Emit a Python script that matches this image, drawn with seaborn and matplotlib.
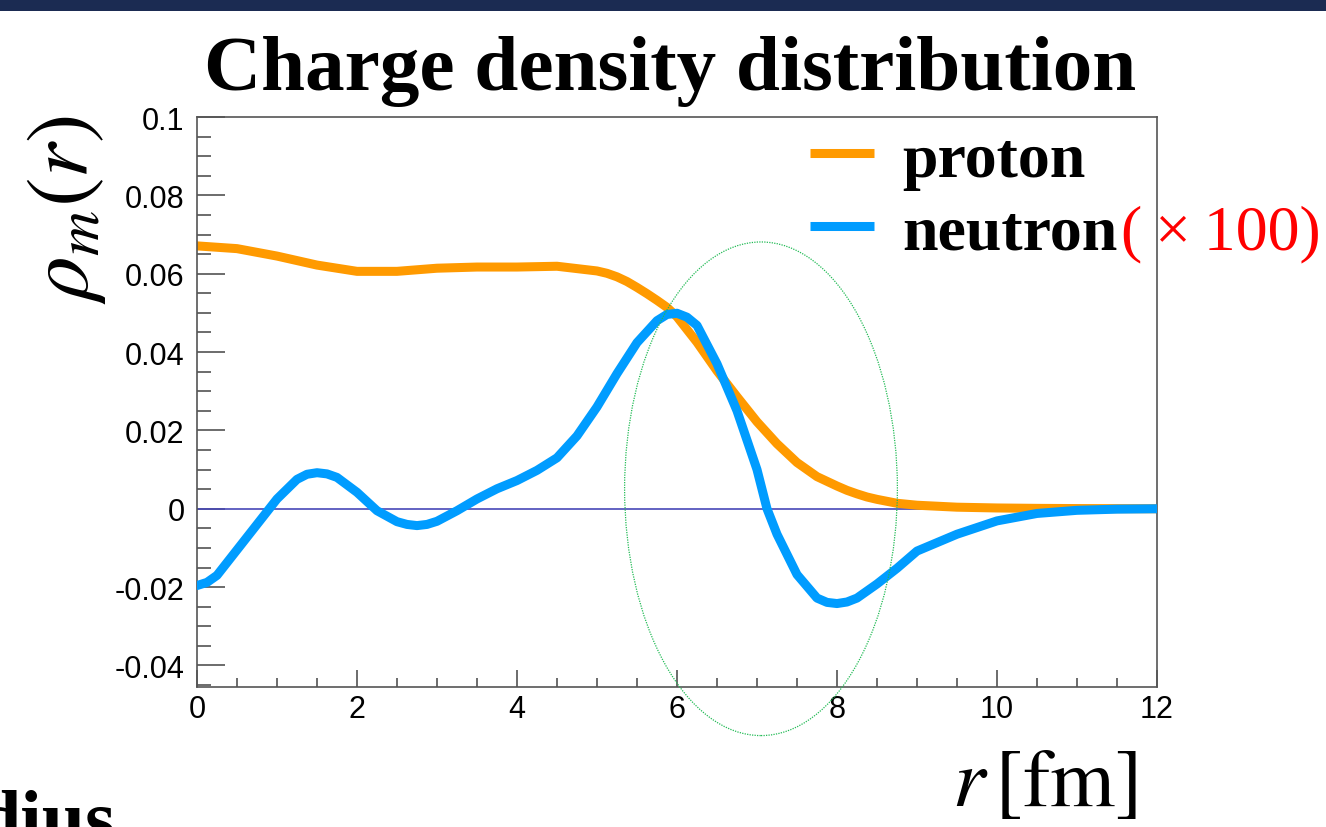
import numpy as np
import pandas as pd
import matplotlib
matplotlib.use("Agg")
import matplotlib.pyplot as plt
import seaborn as sns
from matplotlib.patches import Ellipse, Rectangle

# ---------------- data ----------------
r_proton = [0.0, 0.5, 1.0, 1.5, 2.0, 2.5, 3.0, 3.5, 4.0, 4.5, 5.0, 5.125, 5.25, 5.375,
            5.5, 5.625, 5.75, 5.875, 6.0, 6.25, 6.5, 6.75, 7.0, 7.25, 7.5, 7.75, 8.0,
            8.125, 8.25, 8.375, 8.5, 8.625, 8.75, 9.0, 9.5, 10.0, 10.5, 11.0, 12.0]
proton = [0.0671, 0.0664, 0.0645, 0.0622, 0.0606, 0.0606, 0.0614, 0.0617, 0.0617,
          0.0619, 0.0607, 0.0601, 0.0592, 0.0580, 0.0565, 0.0549, 0.0532, 0.0514,
          0.0490, 0.0425, 0.0352, 0.0286, 0.0222, 0.0166, 0.0118, 0.0082, 0.0058,
          0.0047, 0.0038, 0.0030, 0.0024, 0.0019, 0.0014, 0.0009, 0.0004, 0.0002,
          0.0001, 0.00005, 0.0]

r_neutron = [0.0, 0.125, 0.25, 0.5, 0.75, 1.0, 1.25, 1.375, 1.5, 1.625, 1.75, 2.0,
             2.25, 2.5, 2.625, 2.75, 2.875, 3.0, 3.25, 3.5, 3.75, 4.0, 4.25, 4.5,
             4.75, 5.0, 5.25, 5.5, 5.75, 5.875, 6.0, 6.125, 6.25, 6.5, 6.75, 7.0,
             7.125, 7.25, 7.5, 7.75, 7.875, 8.0, 8.125, 8.25, 8.5, 8.75, 9.0, 9.5,
             10.0, 10.5, 11.0, 11.5, 12.0]
neutron = [-0.0196, -0.0188, -0.0170, -0.0105, -0.0040, 0.0025, 0.0075, 0.0088,
           0.0092, 0.0089, 0.0080, 0.0042, -0.0005, -0.0033, -0.0040, -0.0043,
           -0.0040, -0.0032, -0.0005, 0.0025, 0.0051, 0.0072, 0.0098, 0.0130,
           0.0186, 0.0260, 0.0345, 0.0424, 0.0480, 0.0496, 0.0499, 0.0489, 0.0468,
           0.0370, 0.0250, 0.0100, 0.0000, -0.0065, -0.0168, -0.0228, -0.0239,
           -0.0242, -0.0238, -0.0228, -0.0192, -0.0152, -0.0108, -0.0065, -0.0031,
           -0.0012, -0.0004, -0.0001, 0.0]

series_labels = ["proton", "neutron"]
scale_note = "(\u2009×\u2009100)"
title_text = "Charge density distribution"
x_ticks = [0, 2, 4, 6, 8, 10, 12]
y_ticks = [-0.04, -0.02, 0, 0.02, 0.04, 0.06, 0.08, 0.1]
y_ticklabels = ["-0.04", "-0.02", "0", "0.02", "0.04", "0.06", "0.08", "0.1"]

# highlight ellipse (center r, center rho, width, height)
ell_cx, ell_cy, ell_w, ell_h = 7.05, 0.0051, 3.41, 0.126

# ---------------- style ----------------
sns.set_theme(style="white")
plt.rcParams["font.family"] = ["Liberation Sans", "DejaVu Sans"]
plt.rcParams["mathtext.fontset"] = "stix"
plt.rcParams["text.color"] = "black"

W, H = 1326, 828
fig = plt.figure(figsize=(W / 100, H / 100), dpi=100)
fig.patch.set_facecolor("white")
ax = fig.add_axes([197 / W, 1 - 688 / H, (1157 - 197) / W, (688 - 118) / H])

# banner at top
fig.patches.append(Rectangle((0, 1 - 12 / H), 1, 12 / H, transform=fig.transFigure,
                             facecolor="#1b2b52", edgecolor="none", zorder=0))

ax.axhline(0, color="#4848b8", lw=1.2, zorder=1)

df_p = pd.DataFrame({"r": r_proton, "rho": proton})
df_n = pd.DataFrame({"r": r_neutron, "rho": neutron})
sns.lineplot(data=df_p, x="r", y="rho", color="#ff9a00", lw=6.5, ax=ax,
             label=series_labels[0], zorder=2, solid_joinstyle="round")
sns.lineplot(data=df_n, x="r", y="rho", color="#009cff", lw=6.5, ax=ax,
             label=series_labels[1], zorder=3, solid_joinstyle="round")

ax.add_patch(Ellipse((ell_cx, ell_cy), ell_w, ell_h, fill=False,
                     edgecolor="#22bb55", lw=0.9, linestyle=(0, (1, 1)),
                     clip_on=False, zorder=4))

ax.set_xlim(0, 12)
ax.set_ylim(-0.0455, 0.1)
ax.set_xticks(x_ticks)
ax.set_xticklabels([str(t) for t in x_ticks])
ax.set_yticks(y_ticks)
ax.set_yticklabels(y_ticklabels)
ax.set_xticks(np.arange(0, 12.01, 0.5), minor=True)
ax.set_yticks(np.arange(-0.045, 0.1001, 0.005), minor=True)
ax.tick_params(axis="both", which="both", direction="in", color="#444444",
               width=1.1, labelsize=22, labelcolor="black")
ax.tick_params(axis="y", which="major", length=20, pad=9)
ax.tick_params(axis="y", which="minor", length=10)
ax.tick_params(axis="x", which="major", length=12.5, pad=5)
ax.tick_params(axis="x", which="minor", length=6.5)
ax.tick_params(left=True, bottom=True, right=False, top=False, which="both")
for s in ax.spines.values():
    s.set_color("#555555")
    s.set_linewidth(1.2)
ax.set_xlabel("")
ax.set_ylabel("")

# legend
leg = ax.legend(loc="upper left", bbox_to_anchor=(810 / W, 1 - 132 / H),
                bbox_transform=fig.transFigure, frameon=False,
                prop={"family": "Liberation Serif", "weight": "bold", "size": 46},
                handlelength=1.0, handletextpad=0.45, labelspacing=0.22,
                borderpad=0, borderaxespad=0)
for line in leg.get_lines():
    line.set_linewidth(6.5)
    line.set_solid_capstyle("butt")
for t in leg.get_texts():
    t.set_color("black")

# title
fig.text(670 / W, 1 - 90 / H, title_text, ha="center", va="baseline",
         family="Liberation Serif", weight="bold", fontsize=57, color="black")

# axis labels
fig.text(66 / W, 1 - 210 / H, r"$\rho_{m}(r)$", rotation=90, ha="center", va="center",
         fontsize=64, color="black")
fig.text(1137 / W, 1 - 806 / H, r"$r\,[\mathrm{fm}]$", ha="right", va="baseline",
         fontsize=60, color="black")

# slide remnant at bottom-left
fig.text(-22 / W, 1 - 844 / H, "dius", ha="left", va="baseline",
         family="Liberation Serif", weight="bold", fontsize=56, color="black")

# red scale note right after the "neutron" legend label
fig.canvas.draw()
bb = leg.get_texts()[1].get_window_extent()
fig.text((bb.x1 + 3) / W, bb.y0 / H, scale_note, ha="left", va="bottom",
         color="red", fontsize=46, family=["Liberation Serif", "DejaVu Serif"])

fig.savefig("out.png", dpi=100)
